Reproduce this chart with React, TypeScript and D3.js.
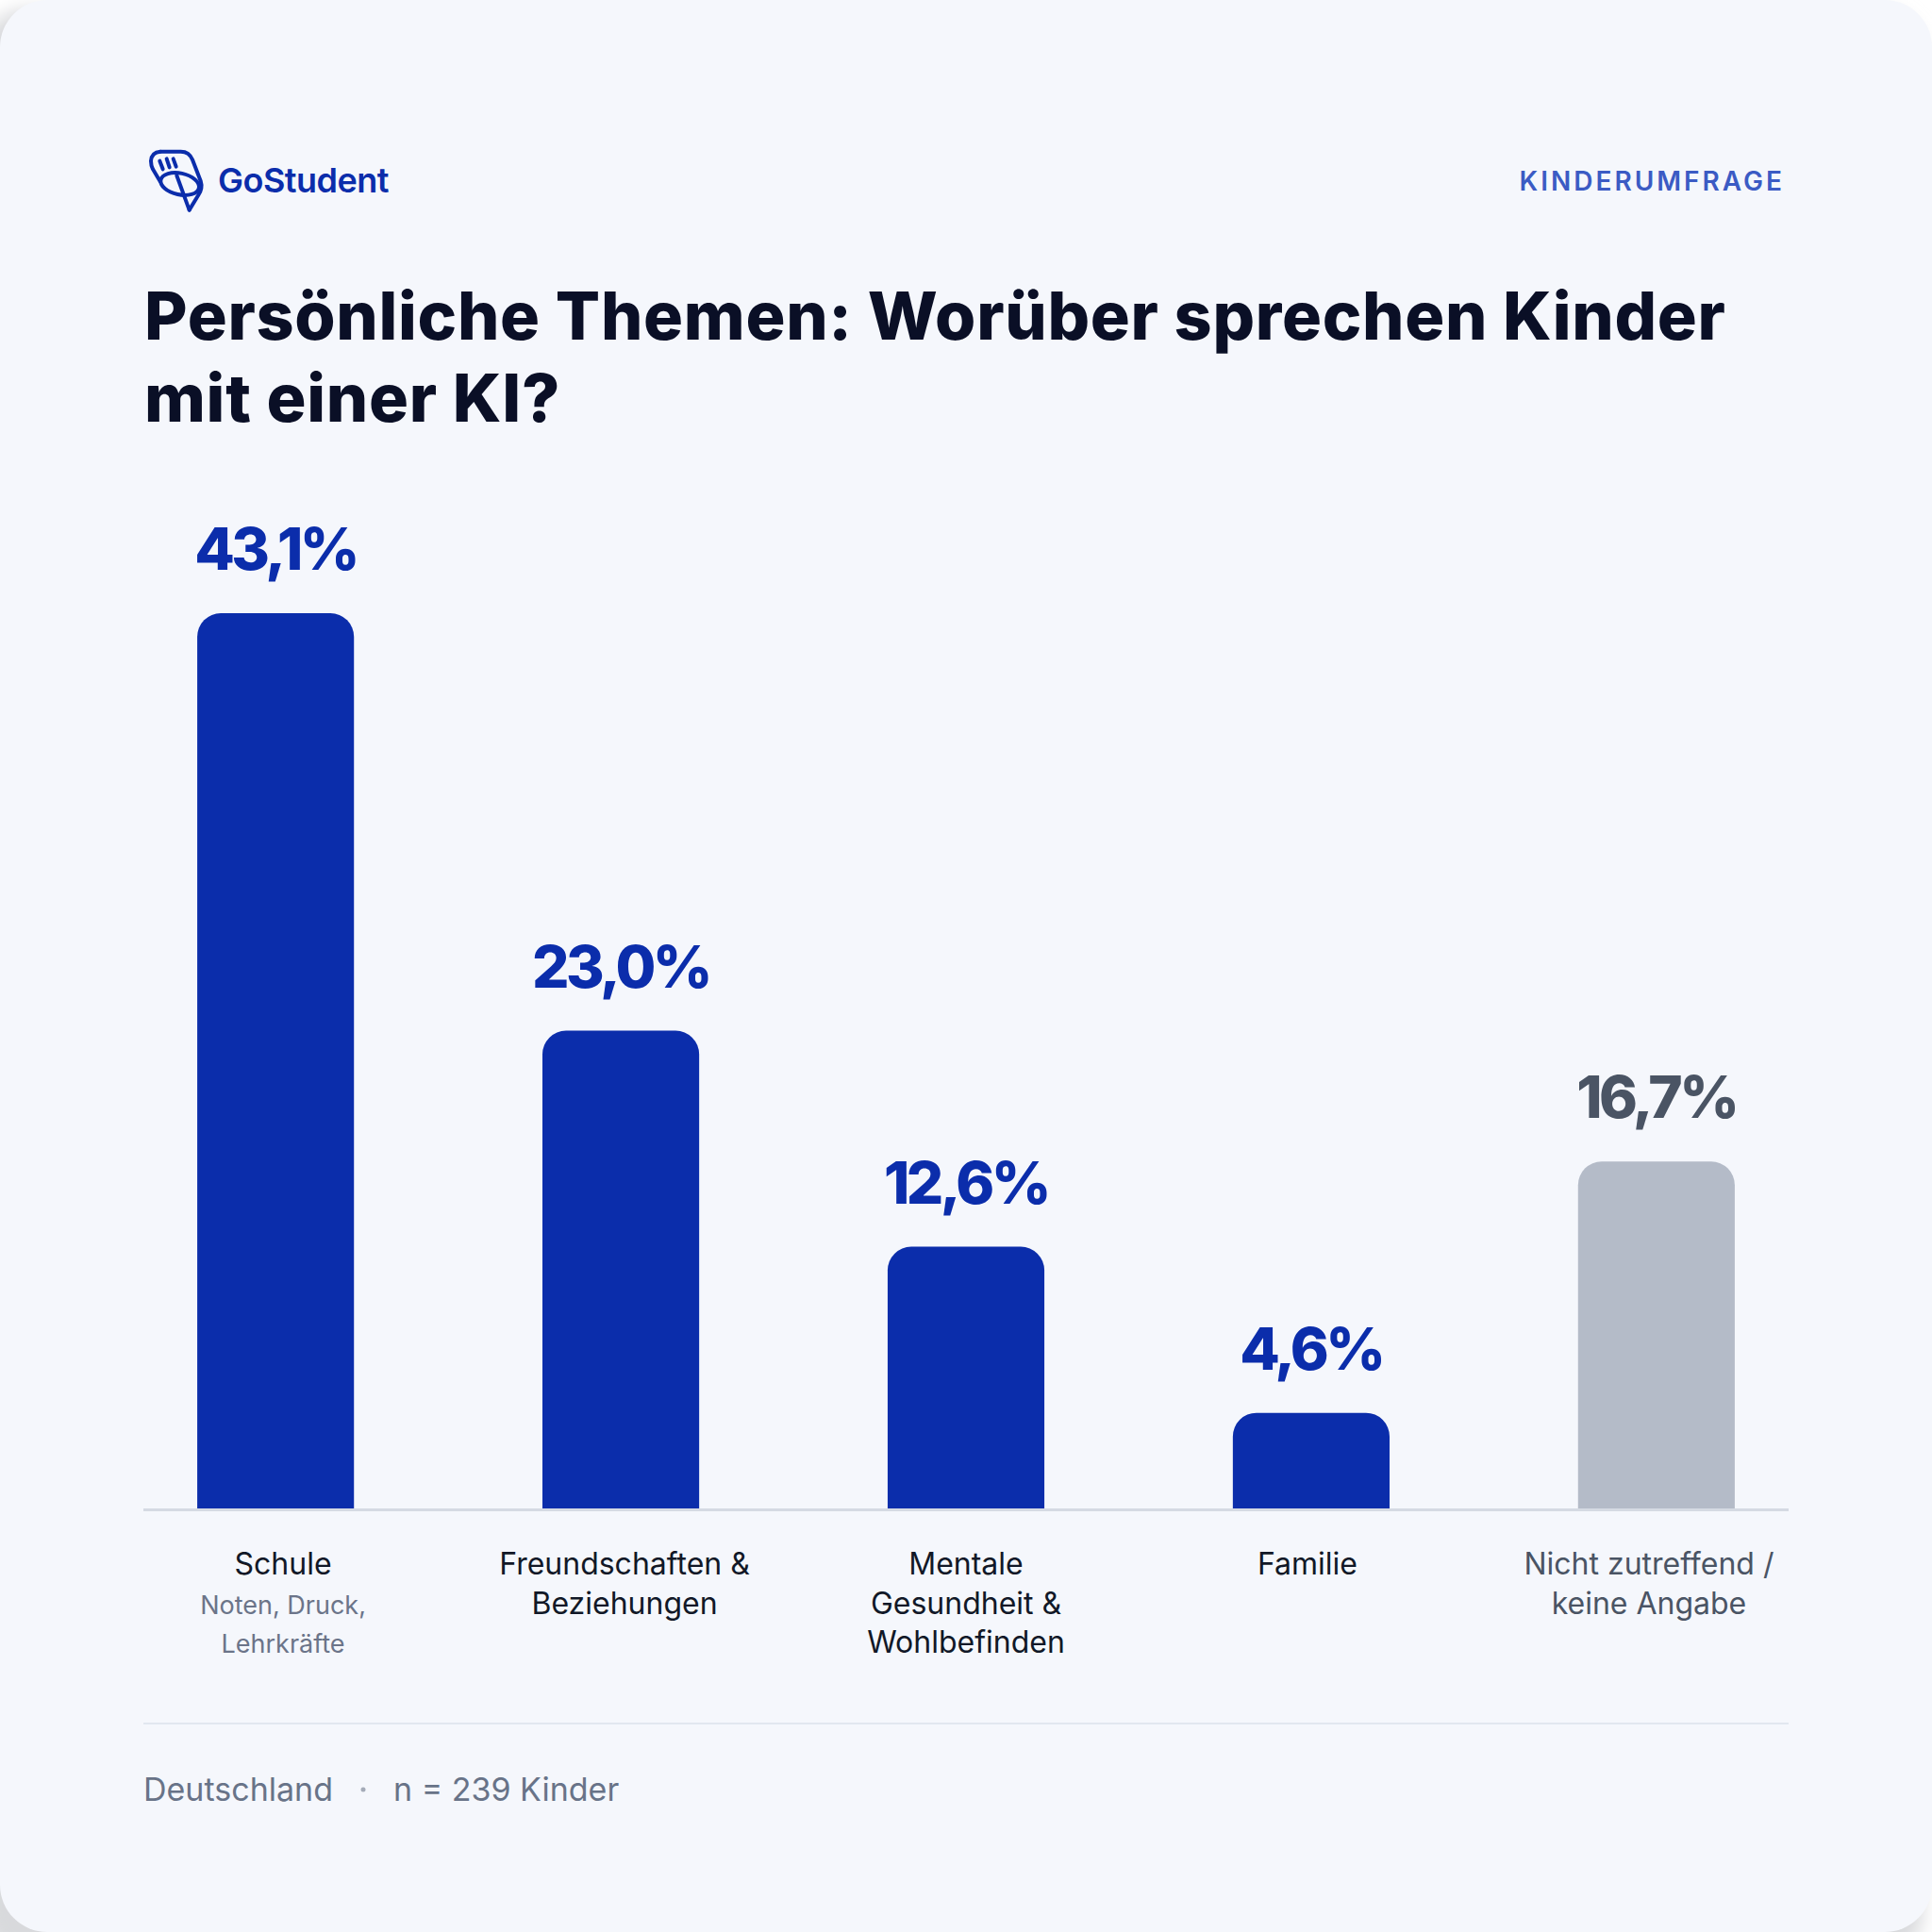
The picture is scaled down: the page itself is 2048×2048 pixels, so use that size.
import React from "react";
import * as d3 from "d3";

const categories = ["Schule", "Freundschaften & Beziehungen", "Mentale Gesundheit & Wohlbefinden", "Familie", "Nicht zutreffend / keine Angabe"];
const values = [43.1, 23.0, 12.6, 4.6, 16.7];
const labelLines = [["Schule"], ["Freundschaften &", "Beziehungen"], ["Mentale", "Gesundheit &", "Wohlbefinden"], ["Familie"], ["Nicht zutreffend /", "keine Angabe"]];
const subLabelLines = [["Noten, Druck,", "Lehrkräfte"], [], [], [], []];
const isNeutral = [false, false, false, false, true];

const W = 2048;
const H = 2048;
const LEFT = 152;
const RIGHT = 1896;
const BASE = 1599;
const TOPMAX = 650;

const BLUE = "#0b2dab";
const GREY_BAR = "#b4bbc8";
const GREY_TEXT = "#4a5464";

function topRoundedBar(x: number, y: number, w: number, h: number, r: number) {
  const p = d3.path();
  const rr = Math.min(r, w / 2, h);
  p.moveTo(x, y + h);
  p.lineTo(x, y + rr);
  p.arcTo(x, y, x + rr, y, rr);
  p.lineTo(x + w - rr, y);
  p.arcTo(x + w, y, x + w, y + rr, rr);
  p.lineTo(x + w, y + h);
  p.closePath();
  return p.toString();
}

const fmt = (v: number) => d3.format(".1f")(v).replace(".", ",") + "%";

export default function App() {
  const x = d3.scaleBand<string>().domain(categories).range([LEFT, RIGHT]).paddingInner(0.546).paddingOuter(0.156);
  const xl = d3.scaleBand<string>().domain(categories).range([LEFT, RIGHT]).paddingInner(0.182).paddingOuter(0);
  const y = d3.scaleLinear().domain([0, d3.max(values) as number]).range([BASE, TOPMAX]);

  const sans = "Inter, 'Noto Sans', sans-serif";

  return (
    <svg width={W} height={H} viewBox={`0 0 ${W} ${H}`} style={{ position: "absolute", left: 0, top: 0 }}>
      <defs>
        <filter id="sh" x="-10%" y="-10%" width="120%" height="120%">
          <feGaussianBlur stdDeviation="10" />
        </filter>
      </defs>
      <rect x={0} y={0} width={W} height={H} fill="#ffffff" />
      <rect x={-20} y={10} width={W + 10} height={H + 20} rx={50} fill="#d8d9dc" filter="url(#sh)" />
      <rect x={0} y={0} width={W} height={H} rx={50} fill="#f5f7fc" />

      {/* Logo */}
      <g transform="translate(150,150) scale(0.3333)" fill="none" stroke={BLUE} strokeWidth={12} strokeLinecap="round" strokeLinejoin="round">
        <path d="M 60,32 L 125,32 Q 152,32 162,58 L 188,125 Q 196,150 180,172 L 152,218" />
        <path d="M 60,32 Q 32,34 30,62 Q 30,75 36,88 L 60,128" />
        <ellipse cx={122} cy={135} rx={62} ry={34} transform="rotate(12 122 135)" />
        <path d="M 112,108 L 152,218" />
        <path d="M 58,62 L 68,88" />
        <path d="M 80,55 L 89,82" />
        <path d="M 101,55 L 110,80" />
      </g>
      <text x={231} y={204} fontFamily={sans} fontWeight={600} fontSize={36} fill={BLUE} letterSpacing={-0.5}>GoStudent</text>
      <text x={1892} y={202} textAnchor="end" fontFamily={sans} fontWeight={600} fontSize={28} fill="#3b5bc4" letterSpacing={3}>KINDERUMFRAGE</text>

      {/* Title */}
      <text fontFamily={sans} fontWeight={800} fontSize={70} fill="#0a0f26" letterSpacing={0.7}>
        <tspan x={153} y={360}>Persönliche Themen: Worüber sprechen Kinder</tspan>
        <tspan x={153} y={447}>mit einer KI?</tspan>
      </text>

      {/* Bars */}
      {categories.map((c, i) => {
        const bx = x(c) as number;
        const bw = x.bandwidth();
        const top = y(values[i]);
        return (
          <g key={c}>
            <path d={topRoundedBar(bx, top, bw, BASE - top, 25)} fill={isNeutral[i] ? GREY_BAR : BLUE} />
            <text x={bx + bw / 2} y={top - 46} textAnchor="middle" fontFamily={sans} fontWeight={800} fontSize={62} fill={isNeutral[i] ? GREY_TEXT : BLUE} letterSpacing={-3.5}>
              {fmt(values[i])}
            </text>
          </g>
        );
      })}

      {/* Baseline */}
      <rect x={LEFT} y={BASE} width={RIGHT - LEFT} height={3} fill="#d5dae3" />

      {/* Category labels */}
      {categories.map((c, i) => {
        const cx = (xl(c) as number) + xl.bandwidth() / 2;
        const lines = labelLines[i];
        const subs = subLabelLines[i];
        return (
          <g key={"l" + c}>
            {lines.map((ln, j) => (
              <text key={j} x={cx} y={1669 + j * 41.5} textAnchor="middle" fontFamily={sans} fontWeight={400} fontSize={32} fill={isNeutral[i] ? GREY_TEXT : "#111827"}>
                {ln}
              </text>
            ))}
            {subs.map((ln, j) => (
              <text key={"s" + j} x={cx} y={1669 + (lines.length + j) * 41.5} textAnchor="middle" fontFamily={sans} fontWeight={400} fontSize={27} fill="#6b7489">
                {ln}
              </text>
            ))}
          </g>
        );
      })}

      {/* Footer */}
      <rect x={LEFT} y={1826} width={RIGHT - LEFT} height={2} fill="#e2e7f0" />
      <text x={152} y={1909} fontFamily={sans} fontWeight={400} fontSize={34} fill="#687388">Deutschland</text>
      <circle cx={385} cy={1897} r={2.5} fill="#a4abb8" />
      <text x={417} y={1909} fontFamily={sans} fontWeight={400} fontSize={34} fill="#687388">n = 239 Kinder</text>
    </svg>
  );
}
